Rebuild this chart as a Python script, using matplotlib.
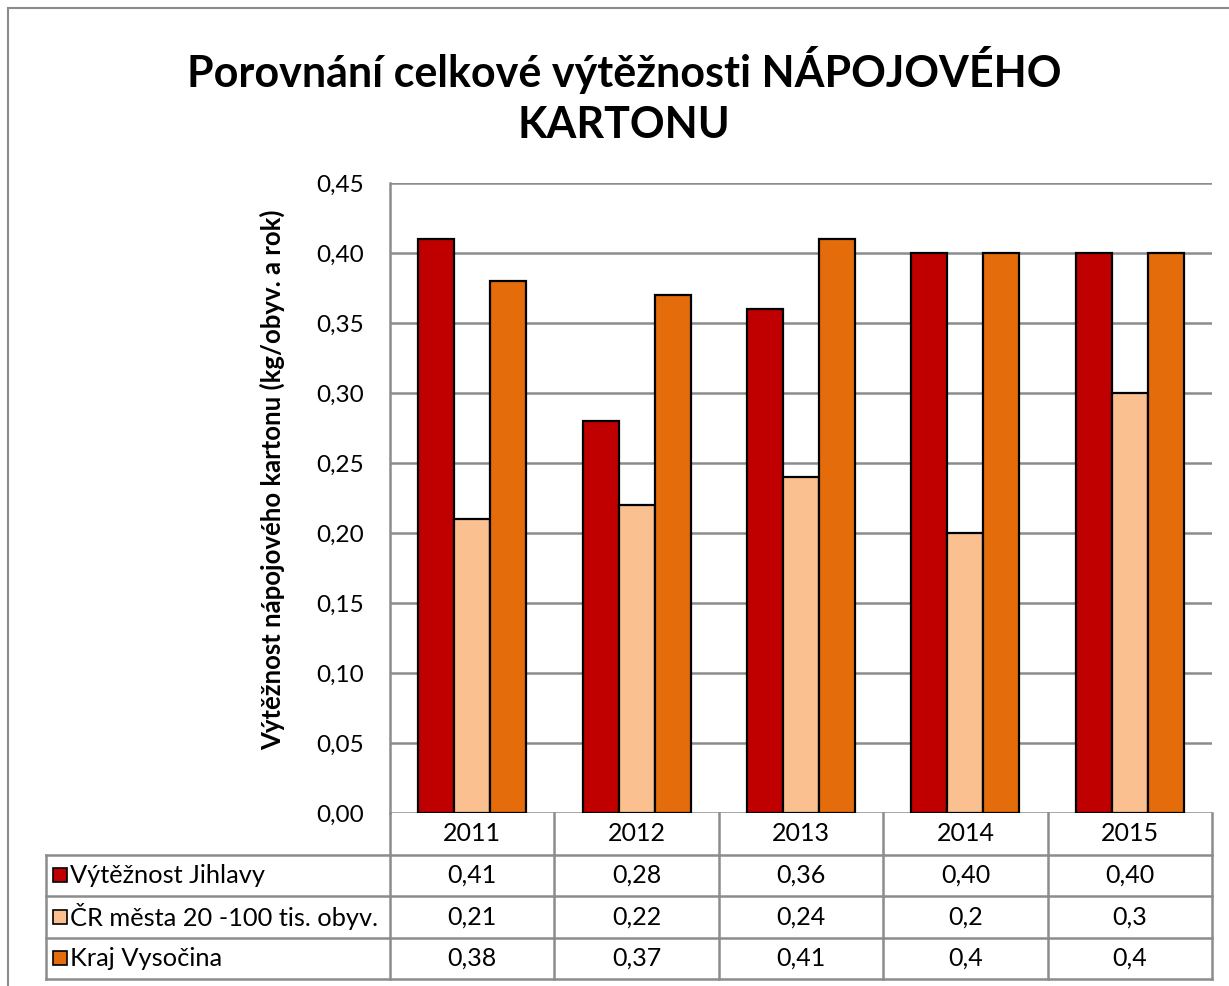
import numpy as np
import matplotlib.pyplot as plt
from matplotlib.patches import Rectangle

plt.rcParams['font.family'] = ['Lato', 'DejaVu Sans']

years = ['2011', '2012', '2013', '2014', '2015']
series = ['Výtěžnost Jihlavy', 'ČR města 20 -100 tis. obyv.', 'Kraj Vysočina']
jihlava = [0.41, 0.28, 0.36, 0.40, 0.40]
cr_mesta = [0.21, 0.22, 0.24, 0.2, 0.3]
vysocina = [0.38, 0.37, 0.41, 0.4, 0.4]
values = [jihlava, cr_mesta, vysocina]
formats = ['{:.2f}', '{:g}', '{:g}']
colors = ['#C00000', '#FAC090', '#E46C0A']

W, H = 1229, 986
fig = plt.figure(figsize=(W / 100, H / 100), dpi=100)

# outer chart border
fig.patches.append(Rectangle((8 / W, -0.1), 1.2, 1 - 8 / H + 0.1, transform=fig.transFigure,
                             fill=False, edgecolor='#8c8c8c', linewidth=1.5))

left, right, top, bottom = 390, 1212, 183, 813
ax = fig.add_axes([left / W, 1 - bottom / H, (right - left) / W, (bottom - top) / H])

x = np.arange(len(years))
bw = 36 / ((right - left) / 5)
for i, (vals, c) in enumerate(zip(values, colors)):
    ax.bar(x + (i - 1) * bw, vals, bw, color=c, edgecolor='black', linewidth=1.6, zorder=3)

ax.set_xlim(-0.5, 4.5)
ax.set_ylim(0, 0.45)
ax.set_yticks(np.arange(0, 0.451, 0.05))
ax.set_yticklabels([f'{v:.2f}'.replace('.', ',') for v in np.arange(0, 0.451, 0.05)], fontsize=17.5)
ax.set_xticks([])
ax.tick_params(axis='y', length=0, pad=19)
ax.grid(axis='y', color='#8c8c8c', linewidth=1.8, zorder=0)
for s in ['top', 'right', 'bottom']:
    ax.spines[s].set_visible(False)
ax.spines['left'].set_color('#8c8c8c')
ax.spines['left'].set_linewidth(1.8)

ax.set_ylabel('Výtěžnost nápojového kartonu (kg/obyv. a rok)', fontsize=18.5, fontweight='bold',
              va='center')
ax.yaxis.set_label_coords((272 - left) / (right - left), (bottom - 480) / (bottom - top))

fig.text(624 / W, 1 - 70 / H, 'Porovnání celkové výtěžnosti NÁPOJOVÉHO',
         ha='center', va='center', fontsize=31, fontweight='bold')
fig.text(624 / W, 1 - 125 / H, 'KARTONU',
         ha='center', va='center', fontsize=31, fontweight='bold')

# data table under the chart
t_left, t_bottom = 46, 979
lab_w = (left - t_left) / ((right - left) / 5)
tab = fig.add_axes([t_left / W, 1 - t_bottom / H, (right - t_left) / W, (t_bottom - bottom) / H])
tab.set_xlim(-0.5 - lab_w, 4.5)
tab.set_ylim(4, 0)
tab.axis('off')
gc = '#8c8c8c'
for xv in np.arange(-0.5, 4.6, 1):
    tab.plot([xv, xv], [0, 4], color=gc, lw=1.8, clip_on=False)
tab.plot([-0.5 - lab_w] * 2, [1, 4], color=gc, lw=1.8, clip_on=False)
for yv in [1, 2, 3, 4]:
    tab.plot([-0.5 - lab_w, 4.5], [yv, yv], color=gc, lw=1.8, clip_on=False)

for j, yr in enumerate(years):
    tab.text(j, 0.5, yr, ha='center', va='center', fontsize=18)
px = (right - left) / 5  # pixels per table column unit
for r, (name, vals, fmt, c) in enumerate(zip(series, values, formats, colors)):
    yc = r + 1.5
    tab.add_patch(Rectangle((-0.5 - lab_w + 7 / px, yc - 0.17), 14 / px, 0.34, facecolor=c,
                            edgecolor='black', linewidth=1.2, clip_on=False))
    tab.text(-0.5 - lab_w + 24 / px, yc, name, ha='left', va='center', fontsize=18.3)
    for j, v in enumerate(vals):
        tab.text(j, yc, fmt.format(v).replace('.', ','), ha='center', va='center', fontsize=18)

fig.savefig('out.png', dpi=100)
